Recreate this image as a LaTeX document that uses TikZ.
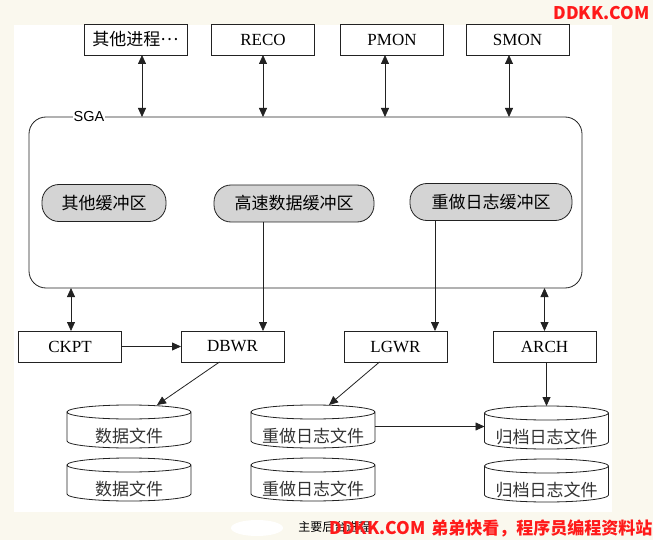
\documentclass[tikz,border=0pt]{standalone}
\usepackage{fontspec}
\usepackage{graphicx}
\setmainfont{Liberation Serif}
\newfontfamily\cjk{Noto Sans CJK SC}
\newfontfamily\sgafont{Liberation Sans}
\usetikzlibrary{arrows.meta}
\definecolor{bgcream}{HTML}{FAF8EE}
\definecolor{pillgray}{HTML}{D4D4D4}
\definecolor{wmred}{HTML}{FF1A1A}
\definecolor{ink}{HTML}{222222}
\newcommand\dbfile[4]{%
  \node[minimum width=124pt, minimum height=43pt, inner sep=0, outer sep=0] (#1) at (#2,#3+21.5) {};
  \draw (#2-62,#3+7) -- (#2-62,#3+36) arc[start angle=180,end angle=360,x radius=62pt,y radius=7pt] -- (#2+62,#3+7) arc[start angle=0,end angle=360,x radius=62pt,y radius=7pt];
  \node[cyltext] (#1t) at (#2,#3+31) {#4};
}
\begin{document}
\begin{tikzpicture}[x=1pt,y=-1pt,
  line width=0.8pt, draw=ink,
  arr/.style={-{Triangle[length=9pt,width=8pt]}},
  darr/.style={{Triangle[length=9pt,width=8pt]}-{Triangle[length=9pt,width=8pt]}},
  proc/.style={draw, minimum width=103pt, minimum height=31pt, inner sep=0, outer sep=0, font=\fontsize{17}{20}\selectfont},
  pill/.style={draw, fill=pillgray, rounded corners=17pt, minimum height=37pt, inner sep=0, outer sep=0, font=\cjk\fontsize{17}{20}\selectfont},
  cyltext/.style={font=\cjk\fontsize{17}{20}\selectfont, text=black!80, inner sep=0},
]
\fill[bgcream] (0,0) rectangle (653,540);
\fill[white] (14,25) rectangle (612,512);
\useasboundingbox (0,0) rectangle (653,540);

% top processes
\node[proc] (other) at (135.5,39.5) {\cjk 其他进程\raisebox{5pt}{…}};
\node[proc] (reco) at (263,39.5) {RECO};
\node[proc] (pmon) at (392,39.5) {PMON};
\node[proc] (smon) at (517.5,39.5) {SMON};

% SGA
\node[draw, rounded corners=17pt, minimum width=553pt, minimum height=171pt, inner sep=0, outer sep=0] (sga) at (305.5,202.5) {};
\node[fill=white, inner sep=1pt, font=\sgafont\fontsize{14.5}{17}\selectfont] (sgalabel) at (89,116.5) {SGA};

% buffers
\node[pill, minimum width=124pt] (obuf) at (104,203) {其他缓冲区};
\node[pill, minimum width=160pt] (dbuf) at (294,203.5) {高速数据缓冲区};
\node[pill, minimum width=162pt] (rbuf) at (491,202) {重做日志缓冲区};

% bottom processes
\node[proc] (ckpt) at (70,346.5) {CKPT};
\node[proc] (dbwr) at (232.5,346.5) {DBWR};
\node[proc] (lgwr) at (395.5,346.5) {LGWR};
\node[proc] (arch) at (544.5,346.5) {ARCH};

% files
\dbfile{data1}{129}{405}{数据文件}
\dbfile{redo1}{313}{405}{重做日志文件}
\dbfile{arc1}{546.5}{406}{归档日志文件}
\dbfile{data2}{129}{458}{数据文件}
\dbfile{redo2}{313}{458}{重做日志文件}
\dbfile{arc2}{546.5}{459}{归档日志文件}

% connectors
\draw[darr] ([xshift=6.5pt]other.south) -- ([xshift=6.5pt]other.south |- sga.north);
\draw[darr] (reco.south) -- (reco.south |- sga.north);
\draw[darr] ([xshift=-7pt]pmon.south) -- ([xshift=-7pt]pmon.south |- sga.north);
\draw[darr] ([xshift=-8.5pt]smon.south) -- ([xshift=-8.5pt]smon.south |- sga.north);
\draw[darr] ([xshift=1pt]ckpt.north) -- ([xshift=1pt]ckpt.north |- sga.south);
\draw[darr] (arch.north) -- (arch.north |- sga.south);
\draw[arr] ([xshift=-31pt]dbuf.south) -- ([xshift=-31pt]dbuf.south |- dbwr.north);
\draw[arr] ([xshift=-56pt]rbuf.south) -- ([xshift=-56pt]rbuf.south |- lgwr.north);
\draw[arr] (ckpt.east) -- (dbwr.west);
\draw[arr] ([xshift=-13pt]dbwr.south) -- ([xshift=28pt]data1.north);
\draw[arr] ([xshift=-16pt]lgwr.south) -- ([xshift=16pt]redo1.north);
\draw[arr] (arc1.north |- arch.south) -- (arc1.north);
\draw[arr] (redo1.east) -- (redo1.east -| arc1.west);

% caption and watermarks
\node[font=\cjk\fontsize{12}{14}\selectfont, anchor=west, inner sep=0] (cap) at (298,527) {主要后台进程};
\fill[white] (257,528) ellipse (26pt and 8pt);
\node[text=wmred, font=\cjk\bfseries, anchor=west, inner sep=0] (wm1) at (329,528) {\resizebox{96pt}{!}{DDKK.COM}};
\node[text=wmred, font=\cjk\bfseries\fontsize{17}{20}\selectfont, anchor=west, inner sep=0] (wm2) at (431,528) {弟弟快看，程序员编程资料站};
\node[text=wmred, font=\cjk\bfseries, anchor=east, inner sep=0] (wm0) at (650,13) {\resizebox{96pt}{!}{DDKK.COM}};
\end{tikzpicture}
\end{document}
